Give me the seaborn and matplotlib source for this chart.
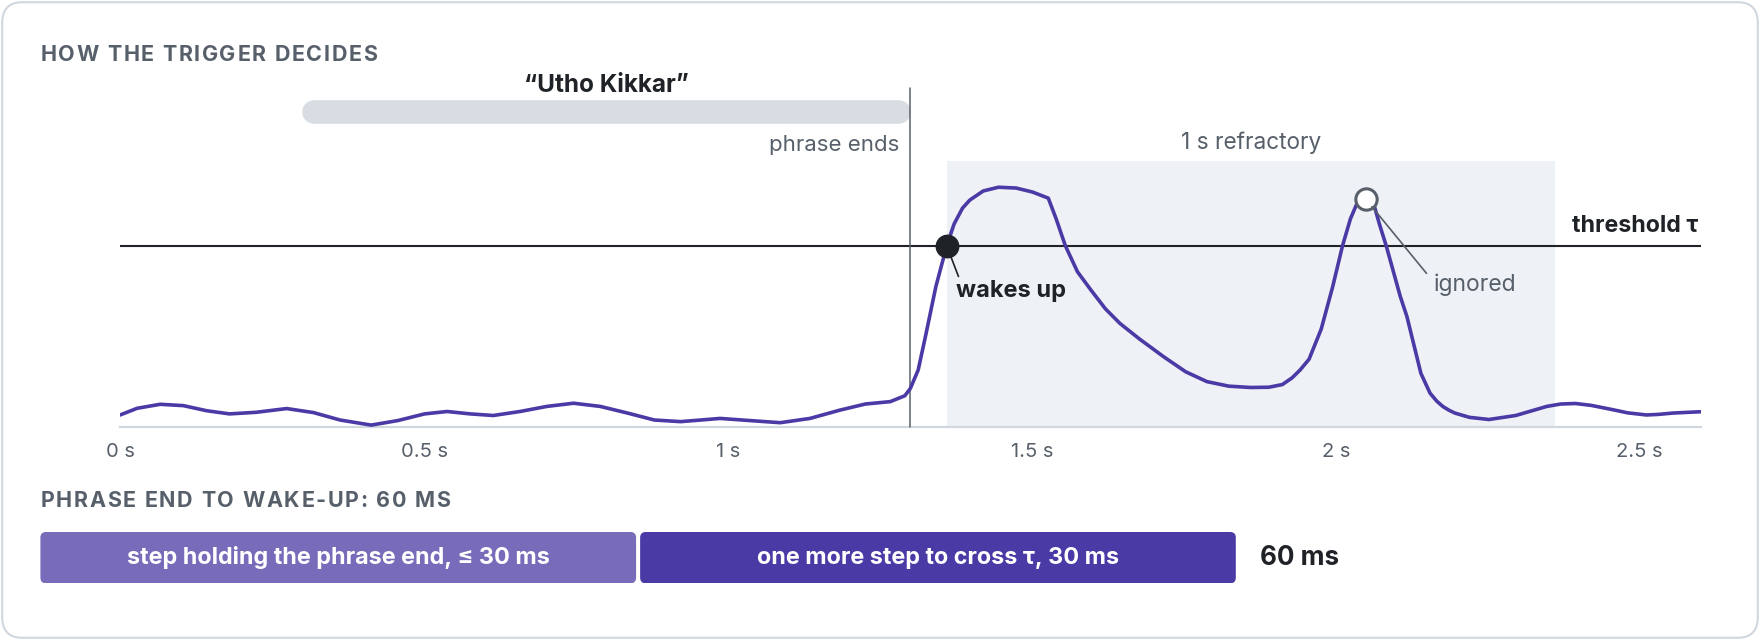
import matplotlib
matplotlib.use('Agg')
import matplotlib.pyplot as plt
import matplotlib.transforms as mtransforms
from matplotlib.patches import FancyBboxPatch
import numpy as np
import seaborn as sns

sns.set_theme(style='white')
plt.rcParams['font.family'] = ['Inter', 'DejaVu Sans']

# ---- data ----
time_s = [0.000, 0.028, 0.066, 0.104, 0.142, 0.180, 0.224, 0.274, 0.318, 0.362,
          0.413, 0.457, 0.501, 0.538, 0.576, 0.614, 0.658, 0.702, 0.746, 0.790,
          0.835, 0.879, 0.922, 0.955, 0.987, 1.036, 1.086, 1.135, 1.184, 1.226,
          1.267, 1.291, 1.300, 1.313, 1.326, 1.342, 1.360, 1.372, 1.386, 1.398,
          1.420, 1.445, 1.474, 1.501, 1.527, 1.540, 1.555, 1.575, 1.597, 1.621,
          1.645, 1.677, 1.717, 1.753, 1.788, 1.824, 1.860, 1.890, 1.912, 1.928,
          1.941, 1.956, 1.976, 1.995, 2.011, 2.024, 2.035, 2.042, 2.049, 2.056,
          2.063, 2.072, 2.083, 2.106, 2.117, 2.140, 2.155, 2.166, 2.176, 2.186,
          2.196, 2.220, 2.252, 2.296, 2.320, 2.347, 2.370, 2.394, 2.420, 2.453,
          2.480, 2.511, 2.530, 2.554, 2.580, 2.600]
score = [0.046, 0.071, 0.086, 0.081, 0.062, 0.050, 0.056, 0.070, 0.055, 0.027,
         0.008, 0.025, 0.050, 0.059, 0.050, 0.044, 0.059, 0.078, 0.090, 0.078,
         0.053, 0.027, 0.021, 0.027, 0.033, 0.025, 0.017, 0.033, 0.064, 0.087,
         0.096, 0.118, 0.145, 0.215, 0.352, 0.527, 0.681, 0.762, 0.822, 0.852,
         0.886, 0.900, 0.897, 0.882, 0.859, 0.781, 0.681, 0.583, 0.515, 0.444,
         0.389, 0.331, 0.264, 0.208, 0.171, 0.154, 0.149, 0.150, 0.160, 0.185,
         0.214, 0.255, 0.368, 0.528, 0.680, 0.781, 0.840, 0.853, 0.856, 0.849,
         0.832, 0.760, 0.680, 0.491, 0.415, 0.202, 0.128, 0.098, 0.078, 0.064,
         0.053, 0.037, 0.029, 0.044, 0.060, 0.078, 0.087, 0.089, 0.082, 0.067,
         0.054, 0.046, 0.048, 0.053, 0.056, 0.058]
threshold = 0.68
phrase_start = 0.3
phrase_end = 1.3
phrase_text = '\u201cUtho Kikkar\u201d'
wake_time = 1.36
refractory_s = 1.0
ignored_time = 2.049
ignored_score = 0.856
tick_vals = [0, 0.5, 1, 1.5, 2, 2.5]
tick_labels = ['0 s', '0.5 s', '1 s', '1.5 s', '2 s', '2.5 s']
step_ms = [30, 30]
step_labels = ['step holding the phrase end, \u2264 30 ms',
               'one more step to cross \u03c4, 30 ms']

# ---- styling ----
INK = '#1f2328'
MUTED = '#57606a'
RULE = '#d0d7de'
PURPLE = '#4a3aa6'
step_colors = ['#786bba', '#4a3aa6']

W, H = 1568, 570      # layout units (reference pixels)
fig = plt.figure(figsize=(17.6, 6.4), dpi=100)
PT = 17.6 * 72 / W    # points per layout unit
renderer = fig.canvas.get_renderer()


def box(x0, y0, x1, y1):
    return [x0 / W, 1 - y1 / H, (x1 - x0) / W, (y1 - y0) / H]


def spaced_text(ax, x, y, s, spacing, **kw):
    # letter-spaced caps label, one glyph at a time
    def width(txt):
        t = ax.text(0, 0, txt, **kw)
        w = t.get_window_extent(renderer).width
        t.remove()
        return w
    base = width('||')
    scale = W / (17.6 * 100)
    for ch in s:
        ax.text(x, y, ch, ha='left', va='center', **kw)
        x += (width('|' + ch + '|') - base) * scale + spacing


# background card + section titles
bg = fig.add_axes([0, 0, 1, 1], zorder=0)
bg.set_xlim(0, W)
bg.set_ylim(H, 0)
bg.axis('off')
bg.add_patch(FancyBboxPatch((2, 2), W - 4, H - 4,
                            boxstyle='round,pad=0,rounding_size=18',
                            fc='white', ec=RULE, lw=1.5))
total = sum(step_ms)
cap_style = dict(fontsize=15.5, fontweight='bold', color=MUTED)
spaced_text(bg, 36, 49, 'HOW THE TRIGGER DECIDES', 1.5, **cap_style)
spaced_text(bg, 36, 446.5, f'PHRASE END TO WAKE-UP: {total} MS', 1.5, **cap_style)

# ---- main score chart ----
ax_x0, ax_x1, ax_top, ax_bot = 107, 1515, 143, 380.5
ax = fig.add_axes(box(ax_x0, ax_top, ax_x1, ax_bot), zorder=1)
ax.patch.set_alpha(0)
ax.set_xlim(0, 2.6)
ax.set_ylim(0, 1)
px_per_s = (ax_x1 - ax_x0) / 2.6
ax_h = ax_bot - ax_top
trans = mtransforms.blended_transform_factory(ax.transData, ax.transAxes)

ax.axvspan(wake_time, wake_time + refractory_s, color='#eef1f5', lw=0, zorder=0)
ax.axhline(threshold, color=INK, lw=1.5, zorder=2)
sns.lineplot(x=time_s, y=score, ax=ax, color=PURPLE, linewidth=2.6, zorder=4)

# phrase pill, end marker
pill_h = 21
cap = pill_h / 2 / px_per_s
pill_y = (ax_bot - 99.5) / ax_h
ax.plot([phrase_start + cap, phrase_end - cap], [pill_y, pill_y],
        transform=trans, lw=pill_h * PT, solid_capstyle='round', color='#d8dde3',
        clip_on=False, zorder=1)
ax.axvline(phrase_end, ymin=0, ymax=(ax_bot - 78) / ax_h, color=MUTED, lw=1.1,
           clip_on=False, zorder=3)
ax.text((phrase_start + phrase_end) / 2, (ax_bot - 76) / ax_h, phrase_text,
        transform=trans, ha='center', va='center', fontsize=17.5,
        fontweight='bold', color=INK)
ax.annotate('phrase ends', xy=(phrase_end, (ax_bot - 129) / ax_h), xycoords=trans,
            xytext=(-10 * PT, 0), textcoords='offset points', ha='right',
            va='center', fontsize=16, color=MUTED)
ax.text(wake_time + refractory_s / 2, (ax_bot - 127) / ax_h, f'{refractory_s:g} s refractory',
        transform=trans, ha='center', va='center', fontsize=16.3, color=MUTED)
ax.annotate('threshold \u03c4', xy=(2.6, threshold), xytext=(-2 * PT, 17.5 * PT),
            textcoords='offset points', ha='right', va='center', fontsize=16.7,
            fontweight='bold', color=INK)

# wake-up and ignored peaks
ax.plot([wake_time], [threshold], 'o', ms=20 * PT, color=INK, zorder=6)
ax.annotate('wakes up', xy=(wake_time, threshold), xytext=(8.6 * PT, -40 * PT),
            textcoords='offset points', ha='left', va='center', fontsize=17,
            fontweight='bold', color=INK, zorder=6,
            arrowprops=dict(arrowstyle='-', color=INK, lw=1.2, shrinkA=0,
                            shrinkB=9 * PT, relpos=(0.03, 1.0)))
ax.plot([ignored_time], [ignored_score], 'o', ms=19 * PT, mfc='white', mec=MUTED,
        mew=2.2, zorder=6)
ax.annotate('ignored', xy=(ignored_time, ignored_score), xytext=(61 * PT, -76.5 * PT),
            textcoords='offset points', ha='left', va='center', fontsize=16.5,
            color=MUTED, zorder=6,
            arrowprops=dict(arrowstyle='-', color=MUTED, lw=1.2, shrinkA=6 * PT,
                            shrinkB=9 * PT, relpos=(0, 0.6)))

ax.set_xticks(tick_vals, tick_labels)
ax.set_yticks([])
ax.set_xlabel('')
ax.set_ylabel('')
ax.tick_params(axis='x', length=0, pad=11, labelsize=14.5, labelcolor=MUTED)
for side in ['top', 'left', 'right']:
    ax.spines[side].set_visible(False)
ax.spines['bottom'].set_color(RULE)
ax.spines['bottom'].set_linewidth(1.6)

# ---- latency breakdown bar ----
gap = 1.8
bx0, bx1, by0, by1 = 36 - gap, 1101 + gap, 473.8, 519.5
axb = fig.add_axes(box(bx0, by0, bx1, by1), zorder=1)
axb.set_xlim(0, total)
axb.set_ylim(-0.5, 0.5)
axb.axis('off')
px_per_ms = (bx1 - bx0) / total
lefts = np.cumsum([0] + step_ms[:-1])
bars = axb.barh([0] * len(step_ms), step_ms, left=lefts, height=1.0, color=step_colors)
radius = 5 / px_per_ms
aspect = (1 / (by1 - by0)) / (1 / px_per_ms)
for rect, col, lab in zip(bars.patches, step_colors, step_labels):
    x, w = rect.get_x(), rect.get_width()
    rect.set_visible(False)
    g = gap / px_per_ms
    axb.add_patch(FancyBboxPatch((x + g, -0.5), w - 2 * g, 1.0,
                                 boxstyle=f'round,pad=0,rounding_size={radius}',
                                 mutation_aspect=aspect, fc=col, ec='none'))
    axb.text(x + w / 2, 0, lab, ha='center', va='center', color='white',
             fontsize=16.8, fontweight='bold')
axb.annotate(f'{total} ms', xy=(total, 0), xytext=(19.8 * PT, 0),
             textcoords='offset points', ha='left', va='center', fontsize=18.8,
             fontweight='bold', color=INK, annotation_clip=False)

fig.savefig('out.png', dpi=100)
